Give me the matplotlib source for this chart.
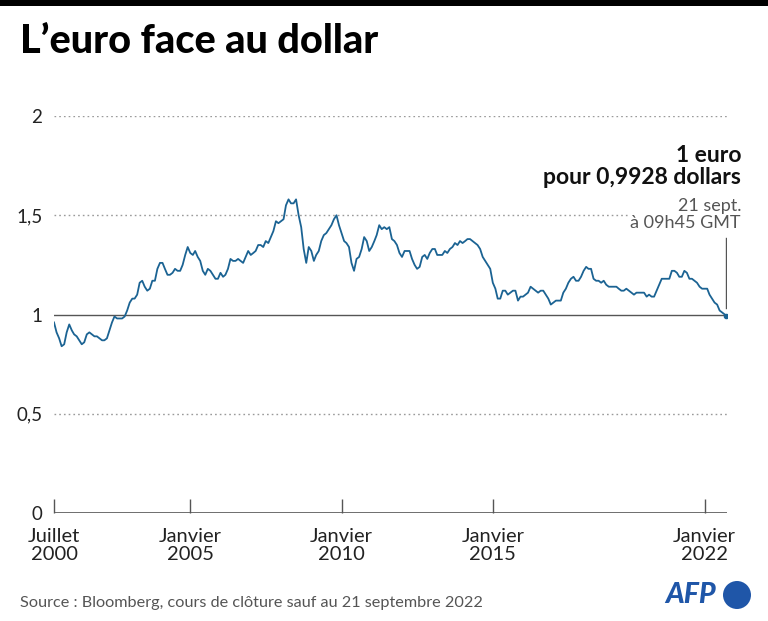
import matplotlib
matplotlib.use("Agg")
import matplotlib.pyplot as plt
import pandas as pd
from matplotlib.patches import Ellipse, Rectangle

plt.rcParams['font.family'] = ['Lato', 'DejaVu Sans']

# ---- data (monthly EUR/USD) ----
start_month = "2000-07-01"
end_month = "2022-09-01"
rate_2000 = [0.96, 0.91, 0.88, 0.84, 0.85, 0.91]
rate_2001 = [0.95, 0.92, 0.90, 0.89, 0.87, 0.85, 0.86, 0.90, 0.91, 0.90, 0.89, 0.89]
rate_2002 = [0.88, 0.87, 0.87, 0.88, 0.92, 0.96, 0.99, 0.98, 0.98, 0.98, 0.99, 1.02]
rate_2003 = [1.06, 1.08, 1.08, 1.10, 1.16, 1.17, 1.14, 1.12, 1.13, 1.17, 1.17, 1.23]
rate_2004 = [1.26, 1.26, 1.23, 1.20, 1.20, 1.21, 1.23, 1.22, 1.22, 1.25, 1.30, 1.34]
rate_2005 = [1.31, 1.30, 1.32, 1.29, 1.27, 1.22, 1.20, 1.23, 1.22, 1.20, 1.18, 1.18]
rate_2006 = [1.21, 1.19, 1.20, 1.23, 1.28, 1.27, 1.27, 1.28, 1.27, 1.26, 1.29, 1.32]
rate_2007 = [1.30, 1.31, 1.32, 1.35, 1.35, 1.34, 1.37, 1.36, 1.39, 1.42, 1.47, 1.46]
rate_2008 = [1.47, 1.48, 1.55, 1.58, 1.56, 1.56, 1.58, 1.50, 1.44, 1.33, 1.26, 1.34]
rate_2009 = [1.32, 1.27, 1.30, 1.32, 1.37, 1.40, 1.41, 1.43, 1.45, 1.48, 1.50, 1.45]
rate_2010 = [1.41, 1.37, 1.36, 1.34, 1.26, 1.22, 1.28, 1.29, 1.33, 1.39, 1.37, 1.32]
rate_2011 = [1.34, 1.37, 1.40, 1.45, 1.43, 1.44, 1.43, 1.44, 1.38, 1.37, 1.35, 1.31]
rate_2012 = [1.29, 1.32, 1.32, 1.32, 1.28, 1.25, 1.23, 1.24, 1.29, 1.30, 1.28, 1.31]
rate_2013 = [1.33, 1.33, 1.30, 1.30, 1.30, 1.32, 1.31, 1.33, 1.34, 1.36, 1.35, 1.37]
rate_2014 = [1.36, 1.37, 1.38, 1.38, 1.37, 1.36, 1.35, 1.33, 1.29, 1.27, 1.25, 1.23]
rate_2015 = [1.16, 1.13, 1.08, 1.08, 1.12, 1.12, 1.10, 1.11, 1.12, 1.12, 1.07, 1.09]
rate_2016 = [1.09, 1.10, 1.11, 1.14, 1.13, 1.12, 1.11, 1.12, 1.12, 1.10, 1.08, 1.05]
rate_2017 = [1.06, 1.07, 1.07, 1.07, 1.11, 1.13, 1.16, 1.18, 1.19, 1.17, 1.17, 1.19]
rate_2018 = [1.22, 1.24, 1.23, 1.23, 1.18, 1.17, 1.17, 1.16, 1.17, 1.15, 1.14, 1.14]
rate_2019 = [1.14, 1.14, 1.13, 1.12, 1.12, 1.13, 1.12, 1.11, 1.10, 1.11, 1.11, 1.11]
rate_2020 = [1.11, 1.09, 1.10, 1.09, 1.09, 1.12, 1.15, 1.18, 1.18, 1.18, 1.18, 1.22]
rate_2021 = [1.22, 1.21, 1.19, 1.19, 1.22, 1.21, 1.18, 1.18, 1.17, 1.16, 1.14, 1.13]
rate_2022 = [1.13, 1.13, 1.10, 1.08, 1.06, 1.05, 1.02, 1.01, 1.00]
last_date = "2022-09-21"
last_rate = 0.9928

y_ticks = [0, 0.5, 1, 1.5, 2]
y_labels = ["0", "0,5", "1", "1,5", "2"]
x_tick_dates = ["2000-07-01", "2005-01-01", "2010-01-01", "2015-01-01", "2022-01-01"]
x_tick_labels = ["Juillet\n2000", "Janvier\n2005", "Janvier\n2010", "Janvier\n2015", "Janvier\n2022"]

title = "L\u2019euro face au dollar"
annot_bold = "1 euro\npour 0,9928 dollars"
annot_light = "21 sept.\n\u00e0 09h45 GMT"
source = "Source : Bloomberg, cours de cl\u00f4ture sauf au 21 septembre 2022"

# ---- build series ----
values = (rate_2000 + rate_2001 + rate_2002 + rate_2003 + rate_2004 + rate_2005 +
          rate_2006 + rate_2007 + rate_2008 + rate_2009 + rate_2010 + rate_2011 +
          rate_2012 + rate_2013 + rate_2014 + rate_2015 + rate_2016 + rate_2017 +
          rate_2018 + rate_2019 + rate_2020 + rate_2021 + rate_2022)
dates = list(pd.date_range(start_month, end_month, freq="MS"))
dates.append(pd.Timestamp(last_date))
values = values + [last_rate]

LINE = "#1b6393"
GRID = "#9a9a9a"
AX = "#555555"

fig = plt.figure(figsize=(7.68, 6.21), dpi=100)
W, H = 768, 621
ax = fig.add_axes([54 / W, (H - 513) / H, (727 - 54) / W, (513 - 116) / H])

ax.plot(dates, values, color=LINE, lw=1.3, solid_joinstyle="round", zorder=3)
ax.plot([dates[-1]], [values[-1]], "o", color=LINE, ms=3, zorder=4)

ax.set_ylim(0, 2)
ax.set_xlim(pd.Timestamp("2000-07-01"), pd.Timestamp("2022-09-28"))

for s in ax.spines.values():
    s.set_visible(False)

for yv in y_ticks:
    if yv in (0.5, 1.5, 2):
        ax.axhline(yv, color=GRID, lw=1, ls=(0, (1.2, 2.2)), zorder=1)
ax.axhline(1, color=AX, lw=1, zorder=2)
ax.axhline(0, color=AX, lw=1.2, zorder=2)

ax.set_yticks(y_ticks)
ax.set_yticklabels(y_labels, fontsize=13.5, color="#222222")
ax.tick_params(axis="y", length=0, pad=8.5)

xt = [pd.Timestamp(d) for d in x_tick_dates]
ax.set_xticks(xt)
ax.set_xticklabels(x_tick_labels, fontsize=14.5, color="#222222", linespacing=1.12)
ax.tick_params(axis="x", direction="in", length=10, width=1, color=AX, pad=10.5)

# annotation
ax.plot([dates[-1], dates[-1]], [1.035, 1.385], color=AX, lw=1, zorder=3)
fig.text(741 / W, 1 - 184 / H, annot_bold, ha="right", va="baseline",
         fontsize=16.5, fontweight="bold", color="#111111", linespacing=1.05)
fig.text(741 / W, 1 - 228 / H, annot_light, ha="right", va="baseline",
         fontsize=13, color="#555555", linespacing=1.1,
         bbox=dict(facecolor="white", edgecolor="none", pad=2))

# header / footer
fig.add_artist(Rectangle((0, 1 - 6 / H), 1, 6 / H, transform=fig.transFigure,
                         facecolor="black", edgecolor="none"))
fig.text(20 / W, 1 - 53 / H, title, ha="left", va="baseline",
         fontsize=28.5, fontweight="black", color="black")
fig.text(20 / W, 1 - 607 / H, source, ha="left", va="baseline",
         fontsize=11.7, color="#555555")
fig.text(665 / W, 1 - 603 / H, "AFP", ha="left", va="baseline",
         fontsize=20.5, fontweight="black", fontstyle="italic", color="#1f56a8")
fig.add_artist(Ellipse((737 / W, 1 - 595 / H), 28 / W, 28 / H, transform=fig.transFigure,
                       facecolor="#1f56a8", edgecolor="none"))

fig.savefig("out.png", dpi=100)
